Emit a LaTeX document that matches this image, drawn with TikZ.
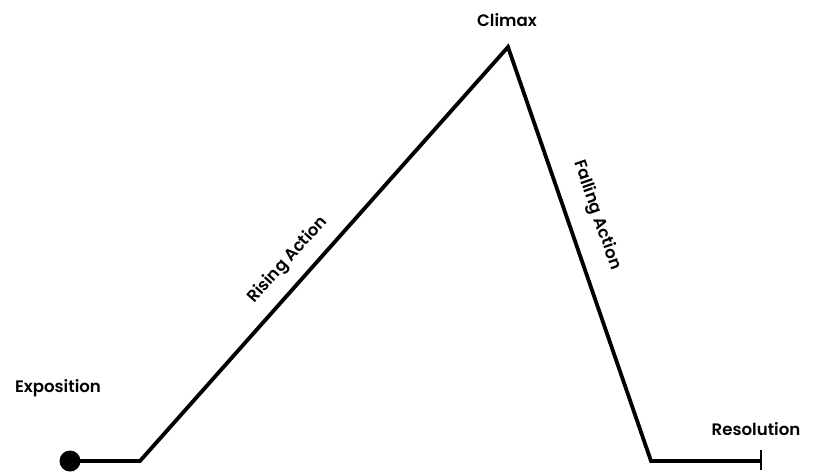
\documentclass[tikz,border=0pt]{standalone}
\usepackage{fontspec}
\setmainfont{Poppins}[BoldFont={Poppins SemiBold}]
\begin{document}
\begin{tikzpicture}[x=1pt,y=-1pt,
  arc/.style={line width=3.8pt,line join=miter},
  lbl/.style={font=\fontsize{16.6}{18}\selectfont\bfseries,inner sep=0pt}]
\useasboundingbox (0,0) rectangle (817,472);
\coordinate (start) at (70,461);
\coordinate (c1) at (140,461);
\coordinate (peak) at (508,47);
\coordinate (c2) at (651,461);
\coordinate (stop) at (761,461);
\draw[arc] (start) -- (c1) -- (peak) -- (c2) -- (stop);
\draw[line width=2.5pt] ([yshift=-9]stop) -- ([yshift=11]stop);
\fill (start) circle (10.5);
\node[lbl] (climax) at (507,20) {Climax};
\node[lbl] (expo) at (58,388) {Exposition};
\node[lbl] (reso) at (756,429) {Resolution};
\node[lbl,rotate=48.3] (rising) at (288,260) {Rising Action};
\node[lbl,rotate=-70.9] (falling) at (597,215) {Falling Action};
\end{tikzpicture}
\end{document}
